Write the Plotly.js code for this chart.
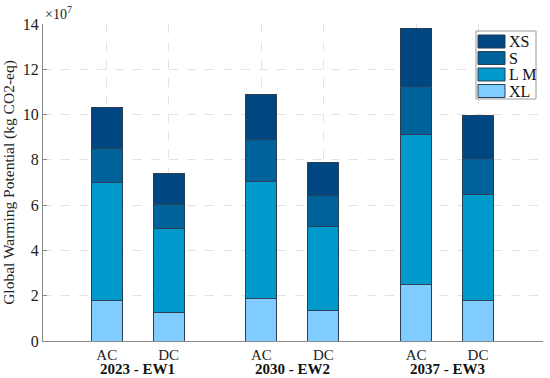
<!DOCTYPE html>
<html><head><meta charset="utf-8">
<script src="https://cdn.plot.ly/plotly-3.0.1.min.js"></script>
<style>html,body{margin:0;padding:0;background:#fff}#c{width:550px;height:378px}</style>
</head><body><div id="c"></div>
<script>
// values in units of 1e7 kg CO2-eq
const groups = ['2023 - EW1', '2030 - EW2', '2037 - EW3'];
const systems = ['AC', 'DC'];
const seriesNames = ['XL', 'L M', 'S', 'XS'];
const XL = [1.79, 1.28, 1.89, 1.34, 2.49, 1.77];
const LM = [5.22, 3.71, 5.17, 3.73, 6.61, 4.70];
const S  = [1.48, 1.05, 1.86, 1.37, 2.12, 1.59];
const XS = [1.81, 1.34, 1.95, 1.45, 2.59, 1.88];
const yTicks = [0, 2, 4, 6, 8, 10, 12, 14];

const colors = ['#80ccff', '#0099cc', '#00629b', '#004680'];
const series = [XL, LM, S, XS];

const xs = [], labels = [];
groups.forEach((g, gi) => systems.forEach((s, si) => { xs.push(gi * 2.5 + si + 1); labels.push(s); }));
const groupCenters = groups.map((g, gi) => gi * 2.5 + 1.5);

const edge = {color: '#2b3f55', width: 1};
const data = series.map((vals, i) => ({
  type: 'bar', name: seriesNames[i], x: xs, y: vals, width: 0.5,
  marker: {color: colors[i], line: edge}, hoverinfo: 'none', showlegend: false
}));

const FAM = 'Times New Roman';
// plot area in px (for custom legend placement)
const W = 550, H = 378, M = {l: 43, r: 7, t: 24, b: 37};
const pw = W - M.l - M.r, ph = H - M.t - M.b;
const px2x = p => (p - M.l) / pw, py2y = p => (H - M.b - p) / ph;

const shapes = [{type: 'rect', xref: 'paper', yref: 'paper',
  x0: px2x(476), x1: px2x(536), y0: py2y(99), y1: py2y(31),
  fillcolor: '#fff', line: {color: '#999', width: 1}, layer: 'above'}];
const legAnn = [];
const rowY = [41.5, 58, 74.5, 91];
seriesNames.slice().reverse().forEach((nm, k) => {
  const ci = seriesNames.length - 1 - k;
  shapes.push({type: 'rect', xref: 'paper', yref: 'paper',
    x0: px2x(478), x1: px2x(505), y0: py2y(rowY[k] + 6.5), y1: py2y(rowY[k] - 6.5),
    fillcolor: colors[ci], line: {color: '#2b3f55', width: 1}, layer: 'above'});
  legAnn.push({text: nm, xref: 'paper', yref: 'paper', x: px2x(507), y: py2y(rowY[k]),
    xanchor: 'left', yanchor: 'middle', showarrow: false,
    font: {family: FAM, size: 16, color: '#111'}});
});

const layout = {
  width: W, height: H,
  margin: M,
  barmode: 'stack',
  paper_bgcolor: '#fff', plot_bgcolor: '#fff',
  font: {family: FAM, color: '#222', size: 16},
  showlegend: false,
  xaxis: {range: [-0.03, 8.05], tickvals: xs, ticktext: labels, showline: true, linecolor: '#888',
    linewidth: 1, ticks: '', showgrid: true, gridcolor: '#e3e3e3', griddash: 'dash',
    zeroline: false, tickfont: {family: FAM, size: 15, color: '#222'}, fixedrange: true},
  yaxis: {range: [0, 14], tickvals: yTicks, showline: true, linecolor: '#888', linewidth: 1,
    ticks: 'inside', ticklen: 4, tickcolor: '#888', showgrid: true, gridcolor: '#e3e3e3', griddash: 'dash',
    zeroline: false, tickfont: {family: FAM, size: 16, color: '#222'},
    title: {text: 'Global Warming Potential (kg CO2-eq)', font: {family: FAM, size: 15.5, color: '#222'}, standoff: 6},
    fixedrange: true},
  shapes: shapes,
  annotations: groups.map((g, i) => ({
    text: '<b>' + g + '</b>', x: groupCenters[i], xref: 'x', y: py2y(369.5), yref: 'paper',
    yanchor: 'middle', showarrow: false, font: {family: FAM, size: 15, color: '#111'}
  })).concat([{
    text: '×10<sup>7</sup>', x: 0, xref: 'paper', y: 1.0, yref: 'paper', xanchor: 'left', yanchor: 'bottom',
    showarrow: false, font: {family: FAM, size: 14, color: '#222'}, yshift: 0
  }]).concat(legAnn)
};
Plotly.newPlot('c', data, layout, {displayModeBar: false, staticPlot: true});
</script></body></html>
